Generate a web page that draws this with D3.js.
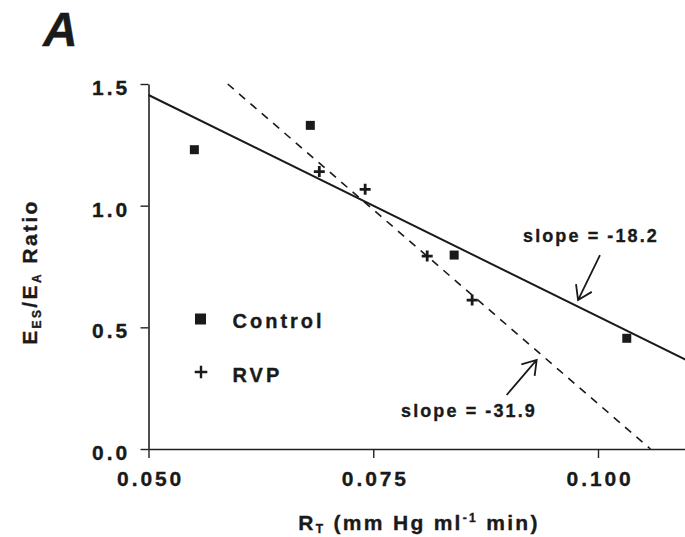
<!DOCTYPE html>
<html>
<head>
<meta charset="utf-8">
<script src="https://cdn.jsdelivr.net/npm/d3@7"></script>
<style>
  body { margin: 0; background: #fff; }
  text { font-family: "Liberation Sans", Arial, sans-serif; font-weight: bold; fill: #1a1a1a; stroke: #1a1a1a; stroke-width: 0.35px; }
</style>
</head>
<body>
<div id="chart-container"></div>
<script>
// values
const controlX = [0.0551, 0.0680, 0.0840, 0.1032];
const controlY = [1.23, 1.33, 0.797, 0.455];
const rvpX = [0.0690, 0.0741, 0.0810, 0.0860];
const rvpY = [1.14, 1.067, 0.793, 0.612];
const fitSlopes = [-18.2, -31.9]; // control, RVP
const xTicks = [0.050, 0.075, 0.100];
const yTicks = [0.0, 0.5, 1.0, 1.5];

const width = 685;
const height = 537;

const xScale = d3.scaleLinear().domain([0.05, 0.11]).range([148.5, 687.9]);
const yScale = d3.scaleLinear().domain([0, 1.5]).range([449, 84]);

const svg = d3.select("#chart-container")
    .append("svg")
    .attr("width", width)
    .attr("height", height);

// panel letter
svg.append("text")
    .attr("x", 43)
    .attr("y", 45.5)
    .style("font-size", "48px")
    .style("font-style", "italic")
    .text("A");

// axes
const xAxis = svg.append("g")
    .attr("transform", `translate(0, ${yScale(0)})`)
    .call(d3.axisBottom(xScale).tickValues(xTicks).tickFormat(d3.format(".3f"))
        .tickSize(9).tickSizeOuter(0).tickPadding(14));

const yAxis = svg.append("g")
    .attr("transform", `translate(${xScale(0.05)}, 0)`)
    .call(d3.axisLeft(yScale).tickValues(yTicks).tickFormat(d3.format(".1f"))
        .tickSize(8).tickSizeOuter(0).tickPadding(10.5));

[xAxis, yAxis].forEach(g => {
    g.select(".domain").attr("stroke", "#222").attr("stroke-width", 1.6);
    g.selectAll(".tick line").attr("stroke", "#222").attr("stroke-width", 1.4);
    g.selectAll(".tick text")
        .attr("fill", "#1a1a1a")
        .style("font-size", "21px")
        .style("letter-spacing", "2.9px")
        .style("font-family", "'Liberation Sans', Arial, sans-serif")
        .style("font-weight", "bold");
});
xAxis.selectAll(".tick text").attr("dx", 1.6).attr("dy", "0.68em");
yAxis.selectAll(".tick text").attr("dy", "0.5em");

// axis titles
const yTitle = svg.append("text")
    .attr("transform", `translate(37, 272) rotate(-90)`)
    .attr("text-anchor", "middle")
    .style("font-size", "21px")
    .style("letter-spacing", "2.4px");
yTitle.append("tspan").text("E");
yTitle.append("tspan").attr("dy", 4).style("font-size", "12px").text("ES");
yTitle.append("tspan").attr("dy", -4).text("/E");
yTitle.append("tspan").attr("dy", 4).style("font-size", "12px").text("A");
yTitle.append("tspan").attr("dy", -4).text(" Ratio");

const xTitle = svg.append("text")
    .attr("x", 419)
    .attr("y", 530)
    .attr("text-anchor", "middle")
    .style("font-size", "21px")
    .style("letter-spacing", "2.3px");
xTitle.append("tspan").text("R");
xTitle.append("tspan").attr("dy", 3).style("font-size", "12px").text("T");
xTitle.append("tspan").attr("dy", -3).text(" (mm Hg ml");
xTitle.append("tspan").attr("dy", -8).style("font-size", "12px").text("-1");
xTitle.append("tspan").attr("dy", 8).text(" min)");

// fit lines, drawn through the group mean with the printed slope
const controlMeanX = d3.mean(controlX), controlMeanY = d3.mean(controlY);
const rvpMeanX = d3.mean(rvpX), rvpMeanY = d3.mean(rvpY);
const controlFit = x => controlMeanY + fitSlopes[0] * (x - controlMeanX);
const rvpFitInv = y => rvpMeanX + (y - rvpMeanY) / fitSlopes[1];

const line = d3.line().x(d => xScale(d[0])).y(d => yScale(d[1]));

svg.append("path")
    .datum([[0.05, controlFit(0.05)], [0.11, controlFit(0.11)]])
    .attr("d", line)
    .attr("fill", "none")
    .attr("stroke", "#1a1a1a")
    .attr("stroke-width", 2);

svg.append("path")
    .datum([[rvpFitInv(1.5), 1.5], [rvpFitInv(0), 0]])
    .attr("d", line)
    .attr("fill", "none")
    .attr("stroke", "#1a1a1a")
    .attr("stroke-width", 1.6)
    .attr("stroke-dasharray", "8,7");

// control points
svg.selectAll("rect.control")
    .data(controlX.map((x, i) => [x, controlY[i]]))
    .enter()
    .append("rect")
    .attr("class", "control")
    .attr("x", d => xScale(d[0]) - 4.5)
    .attr("y", d => yScale(d[1]) - 4.5)
    .attr("width", 9)
    .attr("height", 9)
    .attr("fill", "#1a1a1a");

// RVP points
const plus = (s) => `M${-s},0H${s}M0,${-s}V${s}`;
svg.selectAll("path.rvp")
    .data(rvpX.map((x, i) => [x, rvpY[i]]))
    .enter()
    .append("path")
    .attr("class", "rvp")
    .attr("transform", d => `translate(${xScale(d[0])}, ${yScale(d[1])})`)
    .attr("d", plus(5.5))
    .attr("stroke", "#1a1a1a")
    .attr("stroke-width", 2.8);

// legend
svg.append("rect")
    .attr("x", 195).attr("y", 313.5)
    .attr("width", 11).attr("height", 11)
    .attr("fill", "#1a1a1a");
svg.append("text")
    .attr("x", 232.5).attr("y", 327.5)
    .style("font-size", "20px").style("letter-spacing", "3px")
    .text("Control");
svg.append("path")
    .attr("transform", "translate(201, 372)")
    .attr("d", plus(6.3))
    .attr("stroke", "#1a1a1a")
    .attr("stroke-width", 2.4);
svg.append("text")
    .attr("x", 232.5).attr("y", 381.5)
    .style("font-size", "20px").style("letter-spacing", "3px")
    .text("RVP");

// slope annotations (positions in data units)
const notes = [
    { label: "slope = -18.2", tx: 0.09166, ty: 0.851, from: [0.10022, 0.797], to: [0.09778, 0.612] },
    { label: "slope = -31.9", tx: 0.07809, ty: 0.1315, from: [0.08984, 0.222], to: [0.09318, 0.366] }
];

notes.forEach(n => {
    svg.append("text")
        .attr("x", xScale(n.tx))
        .attr("y", yScale(n.ty))
        .style("font-size", "18px")
        .style("letter-spacing", "2.1px")
        .text(n.label);

    const x1 = xScale(n.from[0]), y1 = yScale(n.from[1]);
    const x2 = xScale(n.to[0]), y2 = yScale(n.to[1]);
    const ang = Math.atan2(y1 - y2, x1 - x2);
    const len = 16, spread = 0.58;
    const head = [ang - spread, ang + spread].map(a => [x2 + len * Math.cos(a), y2 + len * Math.sin(a)]);

    svg.append("path")
        .attr("d", `M${x1},${y1}L${x2},${y2}M${head[0][0]},${head[0][1]}L${x2},${y2}L${head[1][0]},${head[1][1]}`)
        .attr("fill", "none")
        .attr("stroke", "#1a1a1a")
        .attr("stroke-width", 1.8);
});
</script>
</body>
</html>
